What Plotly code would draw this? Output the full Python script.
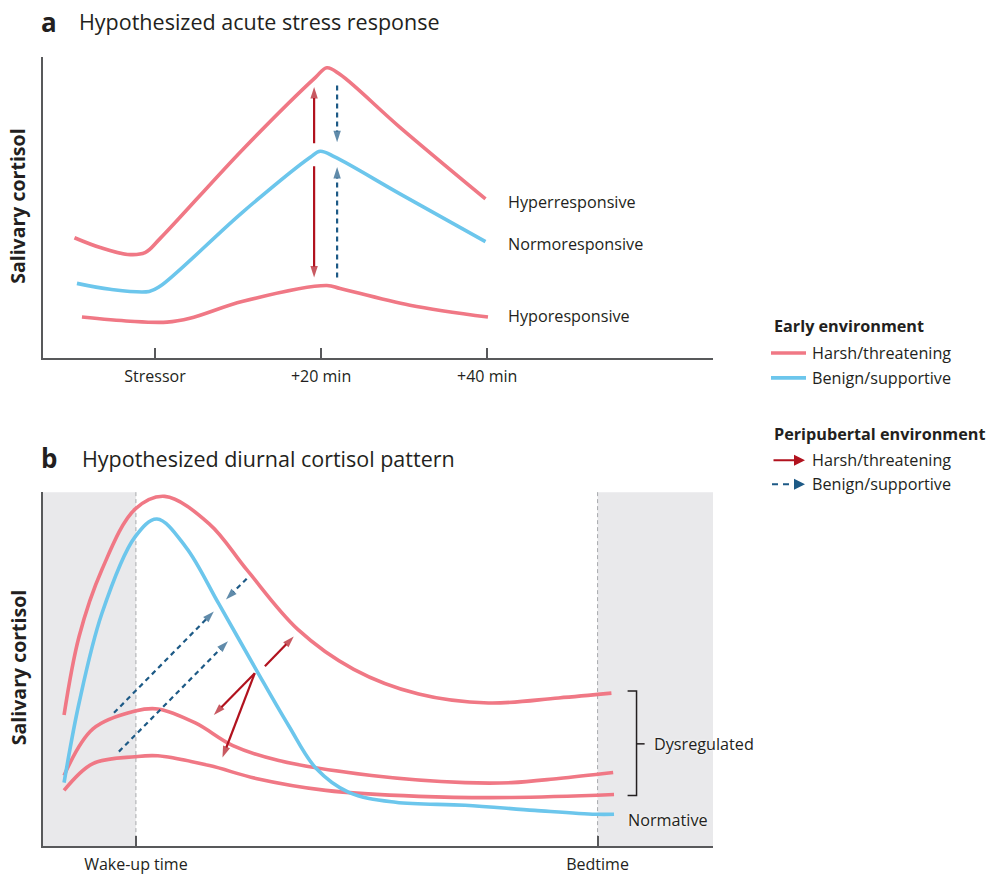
import plotly.graph_objects as go

W, H = 986, 875
FONT = "Open Sans"
TXT = "#231f20"
PINK = "#f07885"
BLUE = "#6cc6ec"
DRED = "#b1121e"
DBLUE = "#1d5a86"
AXC = "#58595b"

# ---------------- Panel a data (x: minutes after stressor, y: cortisol units)
a_hyper_x = [-9.7, -6.6, -3.3, -1.2, 0.6, 10.6, 19.3, 20.7, 22.3, 29.5, 39.8]
a_hyper_y = [4.03, 3.70, 3.47, 3.53, 4.0, 7.0, 9.4, 9.73, 9.5, 7.73, 5.33]
a_normo_x = [-9.4, -5.4, -0.7, 0.6, 10.6, 18.7, 19.9, 21.7, 29.5, 39.8]
a_normo_y = [2.5, 2.3, 2.23, 2.4, 4.9, 6.73, 6.93, 6.73, 5.5, 3.9]
a_hypo_x = [-8.8, -3.0, 1.45, 4.2, 10.6, 20.7, 22.3, 30.7, 40.1]
a_hypo_y = [1.37, 1.23, 1.2, 1.33, 1.9, 2.43, 2.33, 1.77, 1.37]
a_tick_vals = [0, 20, 40]
a_tick_text = ["Stressor", "+20 min", "+40 min"]
a_labels = ["Hyperresponsive", "Normoresponsive", "Hyporesponsive"]
a_label_y = [5.23, 3.83, 1.4]
# peripubertal arrows in panel a: (x, y_start, y_end)
a_red_arrows = [(19.16, 7.2, 9.08), (19.16, 6.43, 2.7)]
a_blue_arrows = [(21.93, 9.13, 7.23), (21.93, 2.7, 6.4)]

# ---------------- Panel b data (x: hours since wake-up, y: cortisol units)
b_high_x = [-2.49, -1.97, -1.18, -0.03, 1.0, 2.55, 3.84, 5.61, 7.55, 9.8, 12.22, 14.65, 16.48]
b_high_y = [4.4, 7.03, 9.27, 11.3, 11.73, 10.8, 9.27, 7.27, 5.93, 5.1, 4.8, 4.97, 5.13]
b_norm_x = [-2.49, -1.97, -1.18, -0.03, 0.73, 1.73, 2.87, 4.16, 5.3, 6.25, 7.38, 9.0, 11.41, 13.82, 15.93, 16.57]
b_norm_y = [2.13, 4.8, 7.8, 10.37, 10.97, 10.03, 8.13, 5.93, 4.03, 2.6, 1.8, 1.47, 1.37, 1.2, 1.07, 1.07]
b_mid_x = [-2.49, -1.49, -0.03, 0.76, 2.06, 3.36, 4.95, 8.17, 11.41, 13.02, 14.65, 16.54]
b_mid_y = [2.37, 3.93, 4.53, 4.6, 4.13, 3.37, 2.87, 2.37, 2.13, 2.13, 2.27, 2.47]
b_low_x = [-2.49, -1.49, -0.03, 0.76, 2.55, 4.16, 6.58, 9.8, 13.02, 16.57]
b_low_y = [1.87, 2.77, 3.0, 3.03, 2.7, 2.27, 1.87, 1.67, 1.63, 1.73]
b_tick_vals = [0, 16]
b_tick_text = ["Wake-up time", "Bedtime"]
# arrows: (x0, y0, x1, y1) head at (x1, y1)
b_blue_arrows = [(-0.76, 4.47, 2.7, 7.87), (-0.59, 3.17, 3.19, 6.87), (3.84, 8.97, 3.12, 8.27)]
b_red_arrows = [(4.12, 5.8, 2.7, 4.4), (4.12, 5.8, 3.0, 2.97), (4.47, 6.03, 5.47, 7.03)]

fig = go.Figure()

def curve(x, y, color, xa, ya):
    fig.add_trace(go.Scatter(x=x, y=y, mode="lines", xaxis=xa, yaxis=ya,
                             line=dict(color=color, width=3.6, shape="spline", smoothing=1.0),
                             hoverinfo="skip", showlegend=False))

def arrow(x0, y0, x1, y1, color, dash, xa, ya):
    fig.add_trace(go.Scatter(x=[x0, x1], y=[y0, y1], mode="lines+markers", xaxis=xa, yaxis=ya,
                             line=dict(color=color, width=2.2, dash=dash),
                             marker=dict(symbol=["circle", "arrow"], size=[0, 12], angleref="previous",
                                         color=color, line=dict(width=0)),
                             hoverinfo="skip", showlegend=False))

curve(a_hyper_x, a_hyper_y, PINK, "x", "y")
curve(a_normo_x, a_normo_y, BLUE, "x", "y")
curve(a_hypo_x, a_hypo_y, PINK, "x", "y")
for (x, y0, y1) in a_red_arrows:
    arrow(x, y0, x, y1, DRED, "solid", "x", "y")
for (x, y0, y1) in a_blue_arrows:
    arrow(x, y0, x, y1, DBLUE, "5px,4px", "x", "y")

curve(b_high_x, b_high_y, PINK, "x2", "y2")
curve(b_mid_x, b_mid_y, PINK, "x2", "y2")
curve(b_low_x, b_low_y, PINK, "x2", "y2")
curve(b_norm_x, b_norm_y, BLUE, "x2", "y2")
for (x0, y0, x1, y1) in b_blue_arrows:
    arrow(x0, y0, x1, y1, DBLUE, "5px,4px", "x2", "y2")
for (x0, y0, x1, y1) in b_red_arrows:
    arrow(x0, y0, x1, y1, DRED, "solid", "x2", "y2")

def px(x):
    return x / W

def py(y):
    return 1 - y / H

shapes = []
annotations = []

# shaded night regions and dashed lines, panel b
for x0, x1 in [(-3.22, 0), (16, 20.0)]:
    shapes.append(dict(type="rect", xref="x2", yref="y2 domain", x0=x0, x1=x1, y0=0, y1=1,
                       fillcolor="#e9e9eb", line=dict(width=0), layer="below"))
for xv in b_tick_vals:
    shapes.append(dict(type="line", xref="x2", yref="y2 domain", x0=xv, x1=xv, y0=0, y1=1,
                       line=dict(color="#a7a9ac", width=1, dash="4px,3px"), layer="below"))

# bracket for Dysregulated
shapes.append(dict(type="path", xref="x2", yref="y2",
                   path="M 17.04 5.2 L 17.35 5.2 L 17.35 1.7 L 17.04 1.7",
                   line=dict(color=TXT, width=1.5)))
shapes.append(dict(type="line", xref="x2", yref="y2", x0=17.35, x1=17.63, y0=3.43, y1=3.43,
                   line=dict(color=TXT, width=1.5)))

LBL = 16.2
# curve labels
for t, yv in zip(a_labels, a_label_y):
    annotations.append(dict(text=t, xref="x", yref="y", x=42.3, y=yv, xanchor="left", yanchor="middle",
                            showarrow=False, font=dict(family=FONT, size=LBL, color=TXT)))
annotations.append(dict(text="Dysregulated", xref="x2", yref="y2", x=17.9, y=3.43, xanchor="left",
                        yanchor="middle", showarrow=False,
                        font=dict(family=FONT, size=LBL, color=TXT, shadow="0px 0px 3px white")))
annotations.append(dict(text="Normative", xref="x2", yref="y2", x=16.97, y=0.87, xanchor="left",
                        yanchor="middle", showarrow=False,
                        font=dict(family=FONT, size=LBL, color=TXT, shadow="0px 0px 3px white")))

# panel titles
for letter, title, yy, tx in [("a", "Hypothesized acute stress response", 22, 77),
                              ("b", "Hypothesized diurnal cortisol pattern", 461, 80)]:
    annotations.append(dict(text="<b>%s</b>" % letter, xref="paper", yref="paper", x=px(39), y=py(yy),
                            xanchor="left", yanchor="middle", showarrow=False,
                            font=dict(family=FONT, size=26, color=TXT)))
    annotations.append(dict(text=title, xref="paper", yref="paper", x=px(tx),
                            y=py(yy), xanchor="left", yanchor="middle", showarrow=False,
                            font=dict(family=FONT, size=21.5, color=TXT)))

# y titles
for yy in [208, 672]:
    annotations.append(dict(text="<b>Salivary cortisol</b>", xref="paper", yref="paper", x=px(18), y=py(yy),
                            xanchor="center", yanchor="middle", textangle=-90, showarrow=False,
                            font=dict(family=FONT, size=19.5, color=TXT)))

# legend
LX = 772
LF = 16.2
annotations.append(dict(text="<b>Early environment</b>", xref="paper", yref="paper", x=px(LX), y=py(328),
                        xanchor="left", yanchor="middle", showarrow=False,
                        font=dict(family=FONT, size=LF, color=TXT)))
annotations.append(dict(text="<b>Peripubertal environment</b>", xref="paper", yref="paper", x=px(LX),
                        y=py(436), xanchor="left", yanchor="middle", showarrow=False,
                        font=dict(family=FONT, size=LF, color=TXT)))
for lbl, yy in [("Harsh/threatening", 355), ("Benign/supportive", 380),
                ("Harsh/threatening", 463), ("Benign/supportive", 487)]:
    annotations.append(dict(text=lbl, xref="paper", yref="paper", x=px(810), y=py(yy),
                            xanchor="left", yanchor="middle", showarrow=False,
                            font=dict(family=FONT, size=LF, color=TXT)))
shapes.append(dict(type="line", xref="paper", yref="paper", x0=px(771), x1=px(806), y0=py(355), y1=py(355),
                   line=dict(color=PINK, width=3.6)))
shapes.append(dict(type="line", xref="paper", yref="paper", x0=px(771), x1=px(806), y0=py(380), y1=py(380),
                   line=dict(color=BLUE, width=3.6)))
annotations.append(dict(text="", xref="paper", yref="paper", axref="pixel", ayref="pixel",
                        x=px(805), y=py(463), ax=-33, ay=0, showarrow=True, arrowhead=2,
                        arrowsize=1.1, arrowwidth=2, arrowcolor=DRED))
shapes.append(dict(type="line", xref="paper", yref="paper", x0=px(772), x1=px(790), y0=py(487), y1=py(487),
                   line=dict(color=DBLUE, width=2, dash="6px,5px")))
annotations.append(dict(text="", xref="paper", yref="paper", axref="pixel", ayref="pixel",
                        x=px(805), y=py(487), ax=-12, ay=0, showarrow=True, arrowhead=2,
                        arrowsize=1.1, arrowwidth=2, arrowcolor=DBLUE))

xa_common = dict(showline=True, linecolor=AXC, linewidth=1.5, showgrid=False, zeroline=False,
                 ticks="inside", ticklen=10, tickwidth=1.5, tickcolor=AXC, ticklabelstandoff=3,
                 tickfont=dict(family=FONT, size=16, color=TXT), fixedrange=True)
ya_common = dict(showline=True, linecolor=AXC, linewidth=1.5, showgrid=False, zeroline=False,
                 showticklabels=False, ticks="", fixedrange=True)

fig.update_layout(
    width=W, height=H, margin=dict(l=0, r=0, t=0, b=0),
    paper_bgcolor="white", plot_bgcolor="rgba(0,0,0,0)",
    xaxis=dict(domain=[px(43), px(713)], range=[-13.49, 67.2], tickvals=a_tick_vals, ticktext=a_tick_text,
               anchor="y", **xa_common),
    yaxis=dict(domain=[py(360), py(57)], range=[0, 10.1], anchor="x", **ya_common),
    xaxis2=dict(domain=[px(43), px(713)], range=[-3.22, 20.0], tickvals=b_tick_vals, ticktext=b_tick_text,
                anchor="y2", **xa_common),
    yaxis2=dict(domain=[py(851), py(495)], range=[0, 11.87], anchor="x2", **ya_common),
    shapes=shapes, annotations=annotations, showlegend=False,
)

fig.write_html("out.html", config={"displayModeBar": False},
               post_script="document.body.style.margin='0';document.body.style.overflow='hidden';")
